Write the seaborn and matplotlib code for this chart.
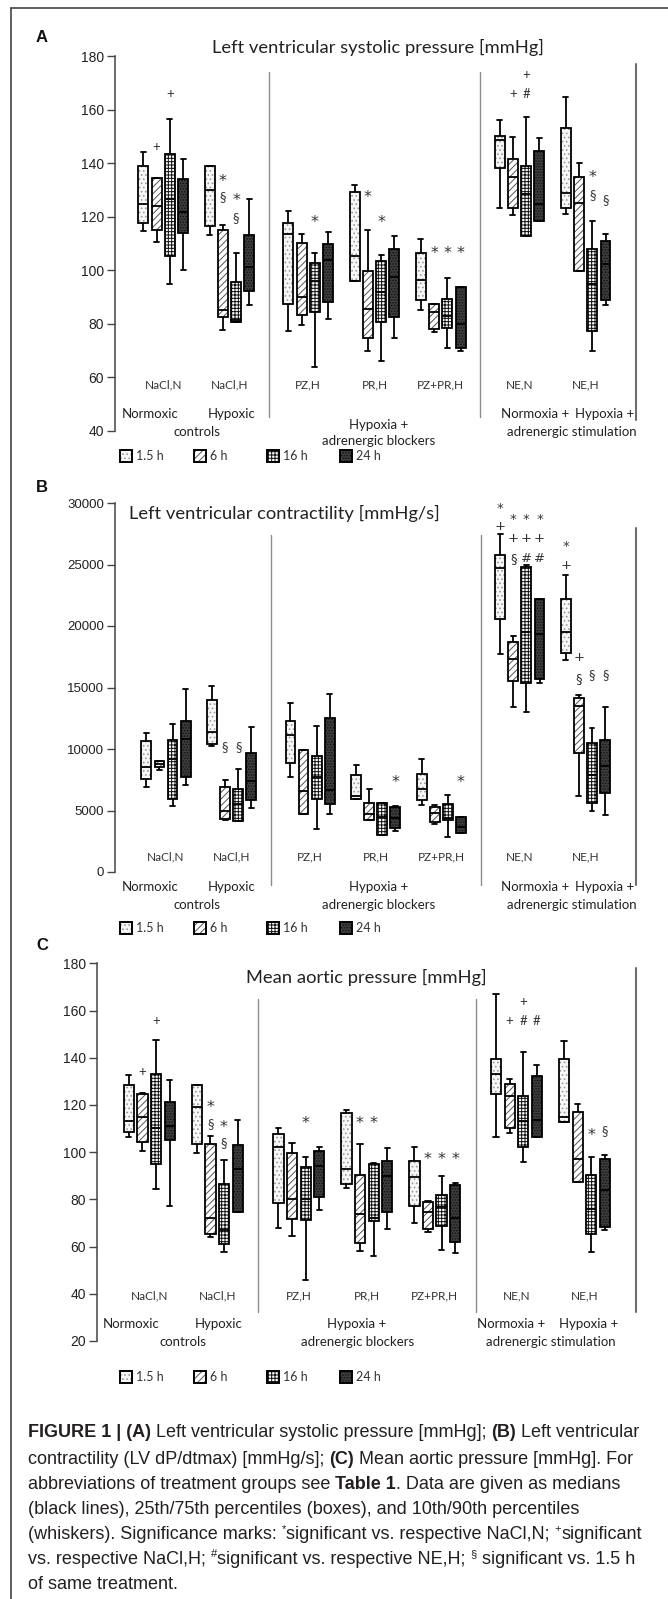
import numpy as np
import pandas as pd
import matplotlib
matplotlib.use("Agg")
import matplotlib.pyplot as plt
import seaborn as sns
from matplotlib import transforms
from matplotlib.lines import Line2D
from matplotlib.patches import Rectangle
from matplotlib.colors import to_rgba

# ---------------- data ----------------
GROUPS = ["NaCl,N", "NaCl,H", "PZ,H", "PR,H", "PZ+PR,H", "NE,N", "NE,H"]
SECTIONS = [0, 0, 1, 1, 1, 2, 2]
TIMES = ["1.5 h", "6 h", "16 h", "24 h"]

# Panel A: Left ventricular systolic pressure [mmHg]  (rows = groups, cols = times)
A_P10 = [[114.8, 110.4, 95.0, 100.0], [113.2, 77.8, 80.6, 87.2], [77.5, 79.6, 64.0, 81.9],
         [96.0, 70.0, 66.0, 74.9], [85.0, 76.9, 71.0, 70.0], [123.2, 120.7, 112.8, 118.3],
         [120.9, 99.6, 70.0, 87.0]]
A_Q1 = [[117.6, 115.2, 105.3, 113.9], [116.5, 82.4, 80.6, 92.4], [87.5, 83.4, 84.3, 88.3],
        [96.0, 74.7, 80.6, 82.4], [88.9, 78.0, 78.4, 71.0], [138.3, 123.4, 112.8, 118.3],
        [123.3, 99.6, 77.5, 89.0]]
A_MED = [[124.8, 124.0, 126.7, 121.7], [129.8, 85.0, 81.5, 101.1], [113.4, 89.9, 96.0, 103.7],
         [105.2, 85.6, 92.0, 97.5], [96.5, 84.3, 83.0, 80.1], [148.5, 134.8, 128.4, 124.6],
         [128.9, 125.0, 95.0, 102.4]]
A_Q3 = [[138.9, 134.3, 143.5, 134.0], [138.9, 114.9, 95.8, 113.0], [117.8, 110.3, 102.7, 110.0],
        [129.2, 99.8, 103.6, 108.1], [106.5, 87.5, 89.4, 93.8], [150.2, 141.7, 138.9, 144.5],
        [153.3, 134.9, 107.9, 110.9]]
A_P90 = [[144.0, 134.3, 156.5, 141.4], [138.9, 116.8, 106.5, 126.7], [122.1, 113.7, 106.5, 114.2],
         [131.8, 115.2, 105.8, 112.9], [111.8, 87.5, 97.0, 93.8], [156.2, 149.9, 157.1, 149.4],
         [164.7, 140.1, 118.4, 113.4]]
A_SIG = [(0, 1, 146.0, "+"), (0, 2, 165.7, "+"),
         (1, 1, 134.9, "*"), (1, 1, 127.2, "§"), (1, 2, 127.7, "*"), (1, 2, 119.6, "§"),
         (2, 2, 119.8, "*"), (3, 1, 129.0, "*"), (3, 2, 119.5, "*"),
         (4, 1, 108.2, "*"), (4, 2, 108.2, "*"), (4, 3, 108.2, "*"),
         (5, 1, 165.7, "+"), (5, 2, 165.7, "#"), (5, 2, 173.0, "+"),
         (6, 2, 136.6, "*"), (6, 2, 128.0, "§"), (6, 3, 126.2, "§")]

# Panel B: Left ventricular contractility [mmHg/s]
B_P10 = [[6900, 8260, 5326, 7092], [10270, 4212, 4158, 5163], [7690, 4755, 3478, 4728],
         [5951, 4212, 3017, 3343], [5462, 3886, 2854, 3152], [17700, 13396, 12988, 15379],
         [17254, 6141, 5000, 4600]]
B_Q1 = [[7527, 8532, 5924, 7717], [10407, 4321, 4158, 5870], [8831, 4755, 5897, 5516],
        [5951, 4212, 3017, 3587], [5870, 4049, 4239, 3152], [20600, 15542, 15352, 15678],
        [17797, 9673, 5600, 6400]]
B_MED = [[8560, 8750, 9200, 10840], [11358, 5000, 5543, 7418], [11113, 6603, 7717, 6657],
         [6141, 4728, 4457, 4429], [6712, 4810, 4375, 3641], [24730, 17281, 19500, 19346],
         [19536, 13500, 7900, 8600]]
B_Q3 = [[10624, 9021, 10706, 12309], [13993, 6902, 6739, 9673], [12282, 9890, 9456, 12499],
        [7880, 5625, 5598, 5245], [7989, 5272, 5543, 4457], [25758, 18694, 24780, 22226],
        [22199, 14183, 10500, 10700]]
B_P90 = [[11330, 9021, 12010, 14890], [15107, 7500, 8342, 11765], [13749, 9890, 11874, 14510],
         [8695, 6712, 5598, 5326], [9157, 5462, 6277, 4457], [27516, 19183, 24997, 22226],
         [24155, 14428, 11700, 13400]]
B_SIG = [(1, 1, 10150, "§"), (1, 2, 10150, "§"), (3, 3, 7700, "*"), (4, 3, 7700, "*"),
         (5, 0, 29600, "*"), (5, 0, 28370, "+"),
         (5, 1, 28620, "*"), (5, 1, 27400, "+"), (5, 1, 25935, "§"),
         (5, 2, 28620, "*"), (5, 2, 27400, "+"), (5, 2, 25935, "#"),
         (5, 3, 28620, "*"), (5, 3, 27400, "+"), (5, 3, 25935, "#"),
         (6, 0, 26500, "*"), (6, 0, 25200, "+"), (6, 1, 17480, "+"),
         (6, 1, 16020, "§"), (6, 2, 16020, "§"), (6, 3, 16020, "§")]

# Panel C: Mean aortic pressure [mmHg]
C_P10 = [[106.3, 100.3, 84.5, 77.2], [99.8, 63.9, 57.6, 74.6], [67.8, 64.3, 46.0, 75.7],
         [85.0, 58.3, 56.2, 67.6], [69.8, 66.3, 58.5, 57.4], [106.3, 108.3, 95.8, 106.6],
         [112.7, 87.3, 57.5, 67.0]]
C_Q1 = [[108.4, 104.2, 94.9, 105.1], [103.5, 65.3, 61.1, 74.6], [78.3, 71.7, 71.2, 81.2],
        [86.7, 61.4, 70.7, 74.8], [77.3, 67.4, 68.7, 61.9], [124.5, 110.2, 102.2, 106.6],
        [112.7, 87.3, 65.5, 68.5]]
C_MED = [[113.4, 114.9, 110.2, 111.1], [119.0, 72.1, 67.1, 92.8], [102.2, 80.3, 80.0, 94.2],
         [92.9, 73.8, 72.1, 90.1], [89.3, 74.8, 76.7, 71.9], [133.1, 123.9, 113.0, 113.5],
         [115.1, 97.2, 76.0, 84.0]]
C_Q3 = [[128.5, 124.5, 133.0, 121.3], [128.3, 103.6, 86.4, 103.2], [107.6, 99.8, 93.5, 100.4],
        [116.5, 90.4, 95.0, 96.3], [96.3, 79.0, 82.0, 86.0], [139.5, 128.9, 123.9, 132.3],
        [139.4, 116.8, 90.5, 97.0]]
C_P90 = [[132.7, 124.9, 147.6, 130.4], [128.3, 106.8, 96.6, 113.5], [110.4, 103.8, 98.0, 102.2],
         [117.9, 103.4, 95.3, 101.8], [102.0, 79.3, 89.8, 86.9], [166.9, 131.0, 142.3, 136.9],
         [147.2, 120.4, 98.0, 99.0]]
C_SIG = [(0, 1, 134.1, "+"), (0, 2, 155.6, "+"),
         (1, 1, 121.0, "*"), (1, 1, 112.0, "§"), (1, 2, 112.5, "*"), (1, 2, 103.8, "§"),
         (2, 2, 114.1, "*"), (3, 1, 114.1, "*"), (3, 2, 114.1, "*"),
         (4, 1, 98.9, "*"), (4, 2, 98.9, "*"), (4, 3, 98.9, "*"),
         (5, 1, 155.6, "+"), (5, 2, 155.6, "#"), (5, 3, 155.6, "#"), (5, 2, 163.7, "+"),
         (6, 2, 109.1, "*"), (6, 3, 109.1, "§")]

TITLES = ["Left ventricular systolic pressure [mmHg]",
          "Left ventricular contractility [mmHg/s]",
          "Mean aortic pressure [mmHg]"]

# ---------------- layout / style ----------------
W, H, DPI = 668, 1599, 100
RIGHT_X = 636
sns.set_style("white")
plt.rcParams["font.family"] = ["Liberation Sans", "DejaVu Sans"]
plt.rcParams["hatch.linewidth"] = 0.7
LABEL_FONT = ["Lato", "DejaVu Sans"]
STACK_FONT = ["DejaVu Sans"]

FILLS = {"1.5 h": "#f7f7f7", "6 h": "#ffffff", "16 h": "#fefefe", "24 h": "#3d3d3d"}
HATCH = {"1.5 h": ("....", "#9a9a9a"), "6 h": ("/////", "#555555"),
         "16 h": ("+++++", "#111111"), "24 h": ("......", "#111111")}

fig = plt.figure(figsize=(W / DPI, H / DPI), dpi=DPI)
renderer = fig.canvas.get_renderer()


def fx(px):
    return px / W


def fy(py):
    return 1 - py / H


def set_hatch_color(p, c):
    try:
        p.set_hatchcolor(c)
    except AttributeError:
        p._hatch_color = to_rgba(c)
        p.stale = True


def line_ascent(size, family):
    t = fig.text(0, 0, "lp", fontsize=size, family=family)
    _, h, d = renderer.get_text_width_height_descent("lp", t.get_fontproperties(), ismath=False)
    t.remove()
    return h - d


SPECS = [
    dict(letter="A", ax_x=115, c0=163.3, unit=66.2, gap=0.19, y_top=56, y_bot=431,
         ylim=(40, 180), ticks=np.arange(40, 181, 20), tfs=10,
         title=(378, 47), letter_xy=(42, 37), glab_y=385,
         sub=[("Normoxic", 150, 414), ("Hypoxic", 232, 414), ("controls", 197, 432),
              ("Hypoxia +", 379, 425), ("adrenergic blockers", 379, 441),
              ("Normoxia +", 535, 414), ("Hypoxia +", 605, 414), ("adrenergic stimulation", 572, 432)],
         sep=(72, 417), rsep=(64, 420), leg_y=456),
    dict(letter="B", ax_x=115, c0=166, unit=65.6, gap=0.197, y_top=503, y_bot=872,
         ylim=(0, 30000), ticks=np.arange(0, 30001, 5000), tfs=9.5,
         title=(284, 513), letter_xy=(42, 488), glab_y=857,
         sub=[("Normoxic", 150, 887), ("Hypoxic", 232, 887), ("controls", 197, 905),
              ("Hypoxia +", 379, 887), ("adrenergic blockers", 379, 905),
              ("Normoxia +", 535, 887), ("Hypoxia +", 605, 887), ("adrenergic stimulation", 572, 905)],
         sep=(535, 885), rsep=(528, 885), leg_y=928),
    dict(letter="C", ax_x=97, c0=149.2, unit=68.0, gap=0.2, y_top=963.3, y_bot=1341,
         ylim=(20, 180), ticks=np.arange(20, 181, 20), tfs=10,
         title=(366, 977), letter_xy=(42, 945), glab_y=1296,
         sub=[("Normoxic", 131, 1324), ("Hypoxic", 219, 1324), ("controls", 183, 1342),
              ("Hypoxia +", 357, 1324), ("adrenergic blockers", 358, 1342),
              ("Normoxia +", 511, 1324), ("Hypoxia +", 589, 1324), ("adrenergic stimulation", 551, 1342)],
         sep=(999, 1312), rsep=(968, 1312), leg_y=1377),
]

PANEL_DATA = [(A_P10, A_Q1, A_MED, A_Q3, A_P90, A_SIG),
              (B_P10, B_Q1, B_MED, B_Q3, B_P90, B_SIG),
              (C_P10, C_Q1, C_MED, C_Q3, C_P90, C_SIG)]

STACK_FS = 9.5
stack_asc = line_ascent(STACK_FS, STACK_FONT)

for pi, (spec, (p10, q1, med, q3, p90, sig)) in enumerate(zip(SPECS, PANEL_DATA)):
    positions = [gi + spec["gap"] * SECTIONS[gi] for gi in range(len(GROUPS))]
    rows = []
    for gi in range(len(GROUPS)):
        for ti, t in enumerate(TIMES):
            # sample that reproduces the read 10/25/50/75/90 percentiles exactly
            vals = [p10[gi][ti], p10[gi][ti], q1[gi][ti], q1[gi][ti], med[gi][ti],
                    q3[gi][ti], q3[gi][ti], p90[gi][ti], p90[gi][ti]]
            rows += [{"pos": positions[gi], "time": t, "value": v} for v in vals]
    df = pd.DataFrame(rows)

    ax = fig.add_axes([fx(spec["ax_x"]), fy(spec["y_bot"]),
                       fx(RIGHT_X) - fx(spec["ax_x"]), (spec["y_bot"] - spec["y_top"]) / H])
    sns.boxplot(data=df, x="pos", y="value", hue="time", hue_order=TIMES, native_scale=True,
                whis=(10, 90), width=0.8, gap=0.25, dodge=True, palette=FILLS, saturation=1,
                linecolor="black", linewidth=1.3, showfliers=False, legend=False, ax=ax)
    for cont, t in zip(ax.containers, TIMES):
        for box in cont.boxes:
            box.set_hatch(HATCH[t][0])
            set_hatch_color(box, HATCH[t][1])

    xmin = -(spec["c0"] - spec["ax_x"]) / spec["unit"]
    xmax = (RIGHT_X - spec["c0"]) / spec["unit"]
    ax.set_xlim(xmin, xmax)
    ax.set_ylim(*spec["ylim"])
    ax.set_yticks(spec["ticks"])
    ax.set_yticklabels([str(int(v)) for v in spec["ticks"]])
    ax.set_xticks([])
    ax.set_xlabel("")
    ax.set_ylabel("")
    ax.set_facecolor("none")
    for s in ["top", "right", "bottom"]:
        ax.spines[s].set_visible(False)
    ax.spines["left"].set_color("#444444")
    ax.spines["left"].set_linewidth(1.1)
    ax.tick_params(axis="y", direction="out", length=5.5, width=1.0, color="#444444",
                   labelsize=spec["tfs"], labelcolor="#222222", pad=2.5, left=True)

    blend = transforms.blended_transform_factory(ax.transData, fig.transFigure)
    # separators
    seps = [(positions[1] + positions[2]) / 2, (positions[4] + positions[5]) / 2]
    for sx in seps:
        ax.plot([sx, sx], [fy(spec["sep"][0]), fy(spec["sep"][1])], transform=blend,
                color="#8c8c8c", lw=1.0, clip_on=False)
    ax.plot([xmax, xmax], [fy(spec["rsep"][0]), fy(spec["rsep"][1])], transform=blend,
            color="#6e6e6e", lw=1.5, clip_on=False)

    # significance marks (tight vertical stacks are drawn as one multi-line text)
    px_per_unit = (spec["y_bot"] - spec["y_top"]) / (spec["ylim"][1] - spec["ylim"][0])
    keys = []
    for gi, ti, v, sym in sig:
        if (gi, ti) not in keys:
            keys.append((gi, ti))
    for gi, ti in keys:
        marks = sorted([(v, s) for g2, t2, v, s in sig if (g2, t2) == (gi, ti)], reverse=True)
        xpos = positions[gi] + (ti - 1.5) * 0.2
        pitches = [(marks[k][0] - marks[k + 1][0]) * px_per_unit for k in range(len(marks) - 1)]
        if len(marks) > 1 and max(pitches) < 19:
            pitch = float(np.mean(pitches))
            vmid = (marks[0][0] + marks[-1][0]) / 2
            ax.annotate("\n".join(s for _, s in marks), (xpos, vmid), xytext=(0, -1.5),
                        textcoords="offset points", ha="center", va="center",
                        multialignment="center", linespacing=pitch / stack_asc,
                        fontsize=STACK_FS, color="#333333", family=STACK_FONT)
            continue
        for v, sym in marks:
            if sym == "*":
                ax.annotate(sym, (xpos, v), xytext=(0, -3.5), textcoords="offset points",
                            ha="center", va="center", fontsize=11.5, color="#333333",
                            family=["DejaVu Sans"])
            else:
                ax.text(xpos, v, sym, ha="center", va="center",
                        fontsize=9.5, color="#333333", family=LABEL_FONT)

    # group labels
    for gi, g in enumerate(GROUPS):
        ax.text(positions[gi], fy(spec["glab_y"]), g, transform=blend, ha="center",
                va="center", fontsize=8.5, color="#333333", family=LABEL_FONT)
    for txt, px, py in spec["sub"]:
        fig.text(fx(px), fy(py), txt, ha="center", va="center", fontsize=9.5,
                 color="#222222", family=LABEL_FONT)

    # title and panel letter
    fig.text(fx(spec["title"][0]), fy(spec["title"][1]), TITLES[pi], ha="center", va="center",
             fontsize=13.2, color="#222222", family=LABEL_FONT)
    fig.text(fx(spec["letter_xy"][0]), fy(spec["letter_xy"][1]), spec["letter"], ha="center",
             va="center", fontsize=12, fontweight="bold", color="#111111")

    # legend
    leg_x = [126, 200, 273, 346]
    for lx, t in zip(leg_x, TIMES):
        r = Rectangle((fx(lx - 6), fy(spec["leg_y"] + 6)), 12 / W, 12 / H, transform=fig.transFigure,
                      facecolor=FILLS[t], edgecolor="black", lw=1.4, hatch=HATCH[t][0])
        set_hatch_color(r, HATCH[t][1])
        fig.add_artist(r)
        fig.text(fx(lx + 10), fy(spec["leg_y"]), t, ha="left", va="center", fontsize=9,
                 color="#333333", family=LABEL_FONT)

# outer frame
fig.add_artist(Line2D([fx(11), fx(668)], [fy(8), fy(8)], transform=fig.transFigure,
                      color="#444444", lw=1.2))
fig.add_artist(Line2D([fx(11), fx(11)], [fy(8), fy(1599)], transform=fig.transFigure,
                      color="#444444", lw=1.2))

# ---------------- caption ----------------
CAPTION = [
    [("FIGURE 1 | (A)", "b"), (" Left ventricular systolic pressure [mmHg]; ", "n"), ("(B)", "b"),
     (" Left ventricular", "n")],
    [("contractility (LV dP/dtmax) [mmHg/s]; ", "n"), ("(C)", "b"), (" Mean aortic pressure [mmHg]. For", "n")],
    [("abbreviations of treatment groups see ", "n"), ("Table 1", "b"), (". Data are given as medians", "n")],
    [("(black lines), 25th/75th percentiles (boxes), and 10th/90th percentiles", "n")],
    [("(whiskers). Significance marks: ", "n"), ("*", "s"), ("significant vs. respective NaCl,N; ", "n"),
     ("+", "s"), ("significant", "n")],
    [("vs. respective NaCl,H; ", "n"), ("#", "s"), ("significant vs. respective NE,H; ", "n"),
     ("§", "s"), (" significant vs. 1.5 h", "n")],
    [("of same treatment.", "n")],
]
CAP_Y = [1431.7, 1458.3, 1483.3, 1508.3, 1533.3, 1558.3, 1583.3]
CAP_FONT = ["Liberation Sans", "DejaVu Sans"]


def measure(s, size, weight="normal"):
    t = fig.text(0, 0, s, fontsize=size, fontweight=weight, family=CAP_FONT)
    w = t.get_window_extent(renderer).width
    t.remove()
    return w


def seg_width(s, size, weight="normal"):
    return measure("|" + s + "|", size, weight) - measure("||", size, weight)


base = 10.0
cap_size = base * 552.0 / seg_width(CAPTION[3][0][0], base)
for line, ly in zip(CAPTION, CAP_Y):
    x = 28.0
    base_y = ly + 5.5
    for s, st in line:
        if st == "s":
            sz, wt, yy = cap_size * 0.62, "normal", base_y - 6.5
        else:
            sz, wt, yy = cap_size, ("bold" if st == "b" else "normal"), base_y
        fig.text(fx(x), fy(yy), s, ha="left", va="baseline", fontsize=sz, fontweight=wt,
                 color="#231f20", family=CAP_FONT)
        x += seg_width(s, sz, wt)

fig.savefig("out.png", dpi=DPI)
